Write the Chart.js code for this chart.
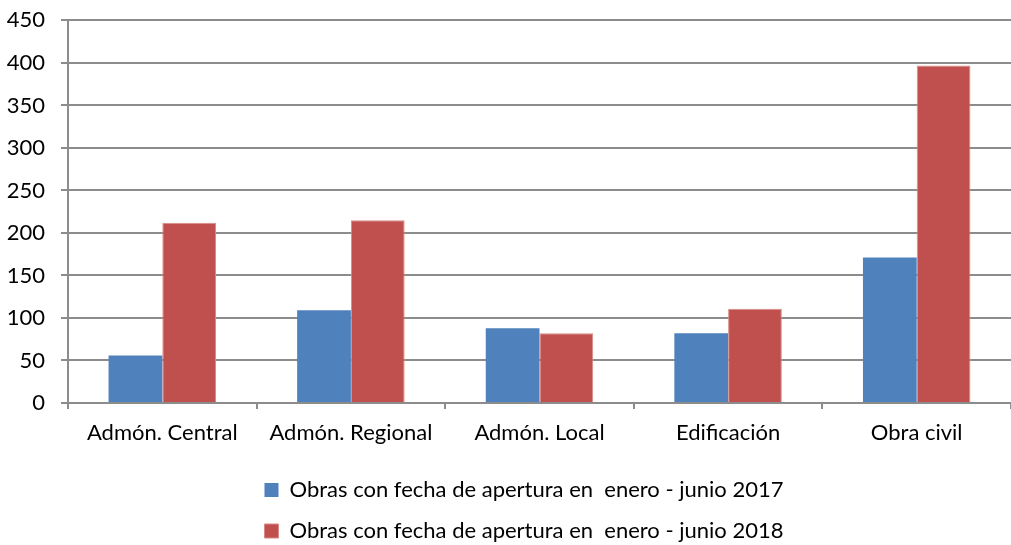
<!DOCTYPE html>
<html lang="es">
<head>
    <meta charset="UTF-8">
    <title>Obras por tipo de administración</title>
    <script src="https://cdn.jsdelivr.net/npm/chart.js"></script>
    <style>
        body {
            margin: 0;
            background: #fff;
        }
        .chart-container {
            width: 1011px;
            height: 545px;
        }
    </style>
</head>
<body>
    <div class="chart-container">
        <canvas id="obrasChart"></canvas>
    </div>

    <script>
        const categories = ['Admón. Central', 'Admón. Regional', 'Admón. Local', 'Edificación', 'Obra civil'];
        const obras2017 = [56, 109, 88, 82, 171];
        const obras2018 = [212, 215, 82, 111, 397];
        const seriesLabels = [
            'Obras con fecha de apertura en  enero - junio 2017',
            'Obras con fecha de apertura en  enero - junio 2018'
        ];

        Chart.defaults.font.family = 'Lato, "Open Sans", sans-serif';
        Chart.defaults.font.size = 22;
        Chart.defaults.color = '#000';

        const gridColor = '#8c8c8c';

        // the original legend sits a little right of the canvas centre
        const legendNudge = {
            id: 'legendNudge',
            afterLayout(chart) {
                chart.legend.left += 16;
                chart.legend.right += 16;
            }
        };

        new Chart(document.getElementById('obrasChart'), {
            type: 'bar',
            data: {
                labels: categories,
                datasets: [
                    {
                        label: seriesLabels[0],
                        data: obras2017,
                        backgroundColor: '#4F81BD',
                        borderColor: '#4F81BD',
                        borderWidth: 0
                    },
                    {
                        label: seriesLabels[1],
                        data: obras2018,
                        backgroundColor: '#C0504D',
                        borderColor: '#D98A88',
                        borderWidth: 1
                    }
                ]
            },
            plugins: [legendNudge],
            options: {
                responsive: true,
                maintainAspectRatio: false,
                animation: false,
                datasets: {
                    bar: {
                        categoryPercentage: 0.57,
                        barPercentage: 1
                    }
                },
                layout: {
                    padding: { top: 0, right: -5, bottom: -7, left: 0 }
                },
                plugins: {
                    tooltip: { enabled: false },
                    legend: {
                        position: 'bottom',
                        labels: {
                            boxWidth: 14,
                            boxHeight: 14,
                            padding: 19,
                            font: { size: 22 }
                        }
                    }
                },
                scales: {
                    x: {
                        grid: {
                            drawOnChartArea: false,
                            color: gridColor,
                            lineWidth: 2,
                            tickLength: 6
                        },
                        border: { color: gridColor, width: 2 },
                        ticks: { padding: 11, maxRotation: 0 },
                        afterFit: (scale) => { scale.height = 57; }
                    },
                    y: {
                        min: 0,
                        max: 450,
                        ticks: { stepSize: 50, padding: 16, font: { lineHeight: 0.4 } },
                        grid: {
                            color: gridColor,
                            lineWidth: 2,
                            tickLength: 7
                        },
                        border: { color: gridColor, width: 2 },
                        afterFit: (scale) => { scale.width = 68; }
                    }
                }
            }
        });
    </script>
</body>
</html>
